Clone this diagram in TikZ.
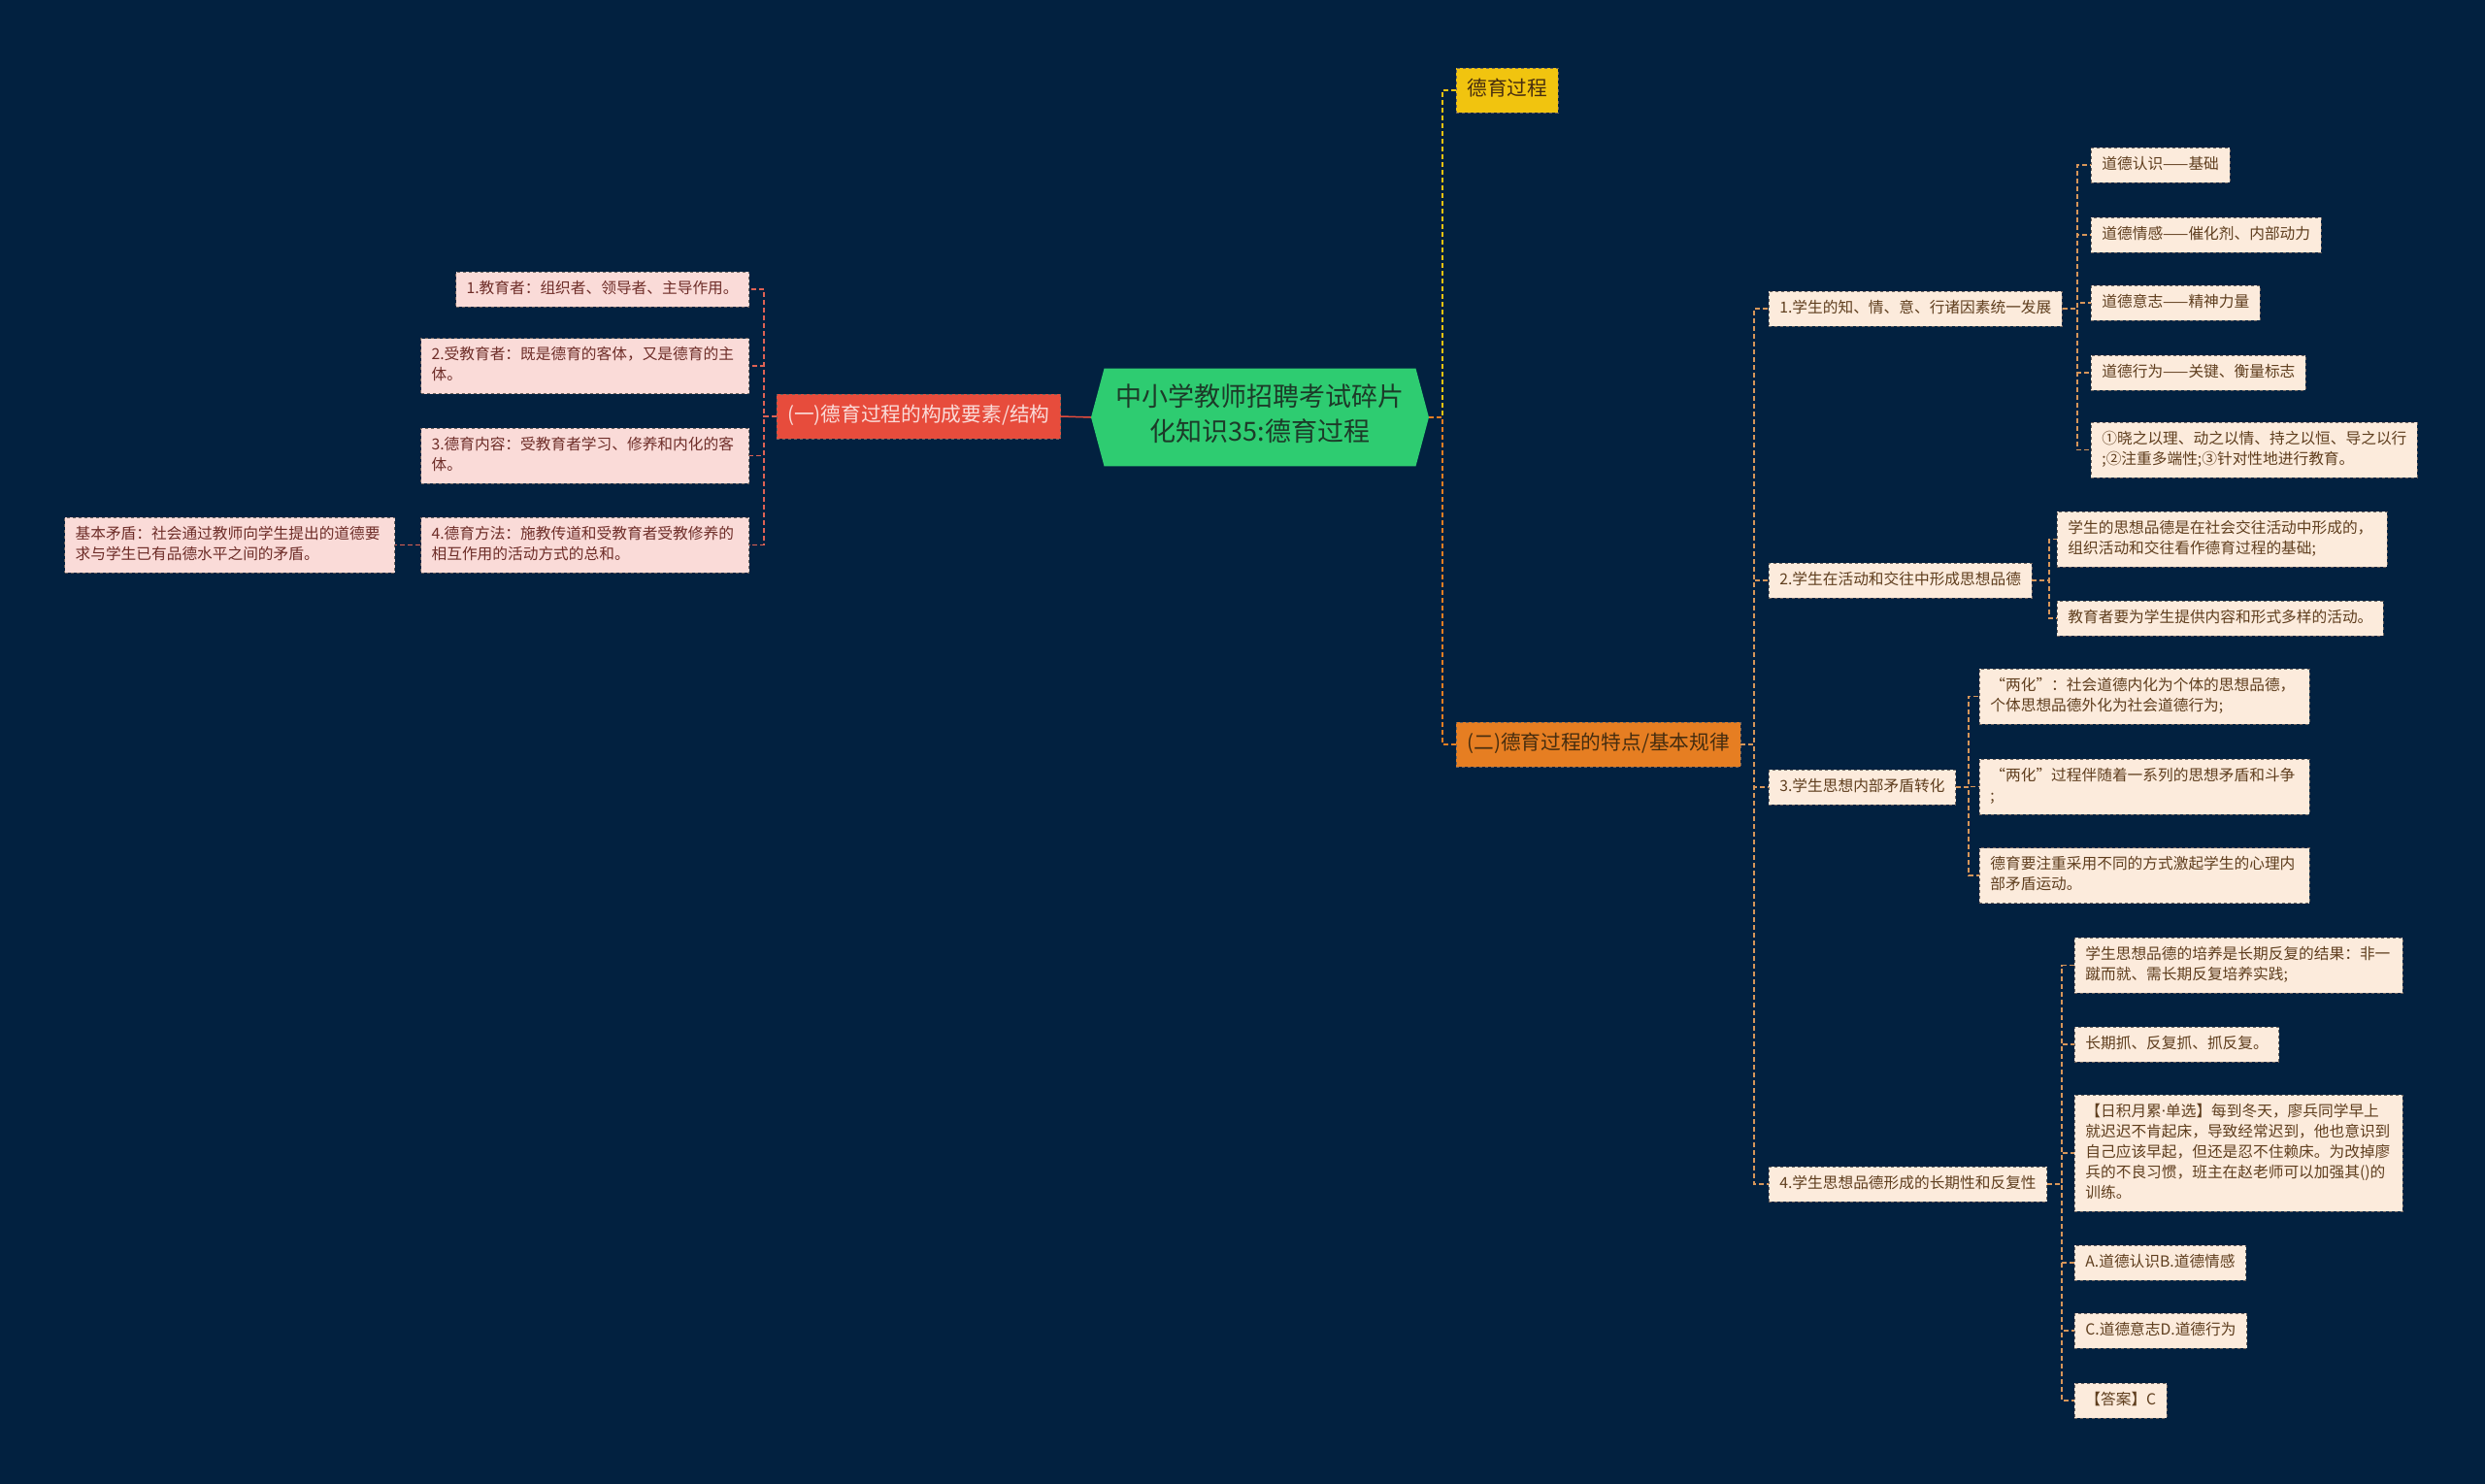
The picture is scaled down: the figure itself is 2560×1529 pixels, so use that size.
\documentclass[tikz,border=0pt]{standalone}
\usepackage{fontspec}
\setmainfont{Noto Sans CJK SC}
\newfontfamily\latinfont{Noto Sans}
\usepackage{tikz}
\usetikzlibrary{shapes.symbols}
\usepackage{xcolor}
\definecolor{bgnavy}{RGB}{2, 33, 64}
\definecolor{rootgreen}{RGB}{46, 204, 113}
\definecolor{roottext}{RGB}{28, 58, 40}
\definecolor{mainred}{RGB}{231, 76, 60}
\definecolor{mainyellow}{RGB}{241, 196, 15}
\definecolor{mainorange}{RGB}{230, 126, 34}
\definecolor{leafpink}{RGB}{250, 219, 216}
\definecolor{leafpeach}{RGB}{252, 235, 220}
\definecolor{pinktext}{RGB}{110, 45, 40}
\definecolor{peachtext}{RGB}{95, 62, 30}
\definecolor{maintext}{RGB}{70, 45, 15}
\definecolor{linered}{RGB}{222, 98, 84}
\definecolor{linetan}{RGB}{214, 150, 90}
\definecolor{boxedge}{RGB}{110, 100, 95}
\newcommand{\leaffont}{\fontsize{15.7}{21}\selectfont}
\newcommand{\branchfont}{\fontsize{20.7}{26}\selectfont}
\newcommand{\titlefont}{\fontsize{27}{36}\selectfont}

\begin{document}
\begin{tikzpicture}[x=1pt, y=-1pt,
  leaf/.style={draw=boxedge, dashed, line width=0.8pt, font=\leaffont, align=left,
    inner xsep=11pt, inner ysep=7.5pt,
    execute at begin node=\strut, execute at end node=\strut},
  pinkleaf/.style={leaf, fill=leafpink, text=pinktext, anchor=east},
  peachleaf/.style={leaf, fill=leafpeach, text=peachtext, anchor=west},
  branch/.style={draw=boxedge, dashed, line width=0.8pt, font=\branchfont,
    inner xsep=11pt, inner ysep=10pt,
    execute at begin node=\strut, execute at end node=\strut},
  rootbox/.style={signal, signal to=west and east, signal pointer angle=150,
    fill=rootgreen, text=roottext, font=\titlefont, align=center,
    inner xsep=12pt, inner ysep=15.5pt,
    execute at begin node=\strut, execute at end node=\strut},
  lline/.style={linered, line width=1.2pt, dash pattern=on 5pt off 3pt},
  yline/.style={mainyellow, line width=1.2pt, dash pattern=on 5pt off 3pt},
  oline/.style={mainorange, line width=1.2pt, dash pattern=on 5pt off 3pt},
  rline/.style={linetan, line width=1.2pt, dash pattern=on 5pt off 3pt}]

  % background
  \fill[bgnavy] (0,0) rectangle (2560,1529);
  \useasboundingbox (0,0) rectangle (2560,1529);

  % root
  \node[rootbox] (root) at (1298,430) {中小学教师招聘考试碎片\\化知识35:德育过程};

  % left branch
  \node[branch, fill=mainred, text=leafpink, anchor=east] (l1) at (1093,429) {(一)德育过程的构成要素/结构};
  \node[pinkleaf] (c1) at (772,298) {1.教育者：组织者、领导者、主导作用。};
  \node[pinkleaf, text width=316pt] (c2) at (772,377) {2.受教育者：既是德育的客体，又是德育的主\\体。};
  \node[pinkleaf, text width=316pt] (c3) at (772,469.5) {3.德育内容：受教育者学习、修养和内化的客\\体。};
  \node[pinkleaf, text width=316pt] (c4) at (772,561.5) {4.德育方法：施教传道和受教育者受教修养的\\相互作用的活动方式的总和。};
  \node[pinkleaf, text width=318pt] (cc) at (407,561.5) {基本矛盾：社会通过教师向学生提出的道德要\\求与学生已有品德水平之间的矛盾。};

  \draw[mainred, line width=1.5pt] (root.west) -- (l1.east);
  \foreach \n in {c1,c2,c3,c4}
    \draw[lline] (l1.west) -| ([xshift=15pt]\n.east) -- (\n.east);
  \draw[lline] (c4.west) -- (cc.east);

  % right branches
  \node[branch, fill=mainyellow, text=maintext, anchor=west] (p1) at (1500,93) {德育过程};
  \node[branch, fill=mainorange, text=maintext, anchor=west] (p2) at (1500,767) {(二)德育过程的特点/基本规律};
  \draw[yline] (root.east) -| ([xshift=-14pt]p1.west) -- (p1.west);
  \draw[oline] (root.east) -| ([xshift=-14pt]p2.west) -- (p2.west);

  \node[peachleaf] (r1) at (1822,318) {1.学生的知、情、意、行诸因素统一发展};
  \node[peachleaf] (r2) at (1822,598) {2.学生在活动和交往中形成思想品德};
  \node[peachleaf] (r3) at (1822,811) {3.学生思想内部矛盾转化};
  \node[peachleaf] (r4) at (1822,1220) {4.学生思想品德形成的长期性和反复性};
  \foreach \n in {r1,r2,r3,r4}
    \draw[rline] (p2.east) -| ([xshift=-15pt]\n.west) -- (\n.west);

  % 1. knowing, feeling, will, acting
  \node[peachleaf] (a1) at (2154,170) {道德认识——基础};
  \node[peachleaf] (a2) at (2154,242) {道德情感——催化剂、内部动力};
  \node[peachleaf] (a3) at (2154,312) {道德意志——精神力量};
  \node[peachleaf] (a4) at (2154,384) {道德行为——关键、衡量标志};
  \node[peachleaf, text width=314pt] (a5) at (2154,463.5) {①晓之以理、动之以情、持之以恒、导之以行\\;②注重多端性;③针对性地进行教育。};
  \foreach \n in {a1,a2,a3,a4,a5}
    \draw[rline] (r1.east) -| ([xshift=-14pt]\n.west) -- (\n.west);

  % 2. activity and interaction
  \node[peachleaf, text width=318pt] (b1) at (2119,555.5) {学生的思想品德是在社会交往活动中形成的，\\组织活动和交往看作德育过程的基础;};
  \node[peachleaf] (b2) at (2119,637) {教育者要为学生提供内容和形式多样的活动。};
  \foreach \n in {b1,b2}
    \draw[rline] (r2.east) -| ([xshift=-8pt]\n.west) -- (\n.west);

  % 3. inner contradictions
  \node[peachleaf, text width=318pt] (d1) at (2039,717.5) {“两化”：社会道德内化为个体的思想品德，\\个体思想品德外化为社会道德行为;};
  \node[peachleaf, text width=318pt] (d2) at (2039,810.5) {“两化”过程伴随着一系列的思想矛盾和斗争\\;};
  \node[peachleaf, text width=318pt] (d3) at (2039,902) {德育要注重采用不同的方式激起学生的心理内\\部矛盾运动。};
  \foreach \n in {d1,d2,d3}
    \draw[rline] (r3.east) -| ([xshift=-11pt]\n.west) -- (\n.west);

  % 4. long-term and repeated
  \node[peachleaf, text width=316pt] (e1) at (2137,994.5) {学生思想品德的培养是长期反复的结果：非一\\蹴而就、需长期反复培养实践;};
  \node[peachleaf] (e2) at (2137,1076) {长期抓、反复抓、抓反复。};
  \node[peachleaf, text width=316pt] (e3) at (2137,1188) {【日积月累{\latinfont ·}单选】每到冬天，廖兵同学早上\\就迟迟不肯起床，导致经常迟到，他也意识到\\自己应该早起，但还是忍不住赖床。为改掉廖\\兵的不良习惯，班主在赵老师可以加强其()的\\训练。};
  \node[peachleaf] (e4) at (2137,1301) {A.道德认识B.道德情感};
  \node[peachleaf] (e5) at (2137,1371) {C.道德意志D.道德行为};
  \node[peachleaf] (e6) at (2137,1443) {【答案】C};
  \foreach \n in {e1,e2,e3,e4,e5,e6}
    \draw[rline] (r4.east) -| ([xshift=-13pt]\n.west) -- (\n.west);

\end{tikzpicture}
\end{document}
